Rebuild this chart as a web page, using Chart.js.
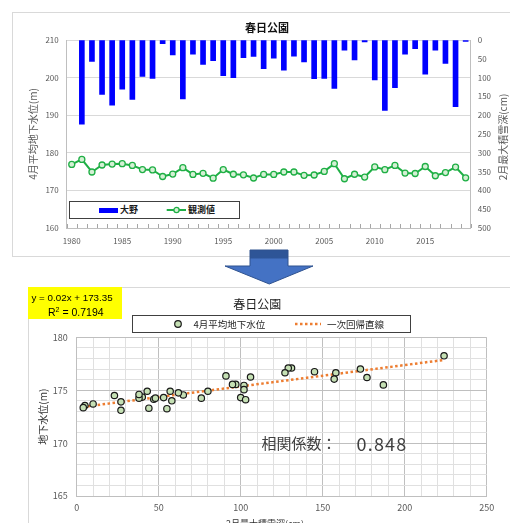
<!DOCTYPE html>
<html>
<head>
<meta charset="utf-8">
<script src="https://cdn.jsdelivr.net/npm/chart.js@4/dist/chart.umd.min.js"></script>
<style>
  html, body { margin:0; padding:0; width:510px; height:523px; overflow:hidden; background:#fff;
    font-family:'Noto Sans CJK JP','Liberation Sans',sans-serif; }
  .abs { position:absolute; }
  #box1 { left:12px; top:12px; width:520px; height:245px; border:1px solid #d9d9d9; box-sizing:border-box; }
  #box2 { left:28px; top:287px; width:520px; height:260px; border:1px solid #d9d9d9; box-sizing:border-box; }
  #c1 { left:12px; top:12px; }
  #c2 { left:28px; top:287px; }
  .leg { box-sizing:border-box; border:1px solid #404040; background:#fff; }
  .lt { position:absolute; white-space:nowrap; color:#262626; }
</style>
</head>
<body>
<div id="box1" class="abs"></div>
<div id="box2" class="abs"></div>
<canvas id="c1" class="abs" width="510" height="246" style="width:510px;height:246px"></canvas>
<canvas id="c2" class="abs" width="486" height="236" style="width:486px;height:236px"></canvas>

<!-- top chart: right axis title -->
<div class="abs" style="left:503px;top:137px;width:0;height:0;">
  <div style="position:absolute;left:-60px;top:-7px;width:120px;height:14px;line-height:14px;text-align:center;font-size:10px;color:#595959;transform:rotate(-90deg);white-space:nowrap;">2月最大積雪深(cm)</div>
</div>

<!-- top chart legend -->
<div class="abs leg" style="left:69px;top:201px;width:171px;height:18px;"></div>
<div class="abs" style="left:99px;top:208px;width:19px;height:4.5px;background:#0000ff;"></div>
<div class="lt" style="left:120px;top:203px;height:14px;line-height:14px;font-size:9px;font-weight:bold;color:#1a1a1a;">大野</div>
<svg class="abs" style="left:164px;top:204px;" width="24" height="12">
  <line x1="2.7" y1="6" x2="22" y2="6" stroke="#1FAF45" stroke-width="2"/>
  <circle cx="12.5" cy="6" r="2.6" fill="#D4F0D4" stroke="#1FAF45" stroke-width="1.3"/>
</svg>
<div class="lt" style="left:188px;top:203px;height:14px;line-height:14px;font-size:9px;font-weight:bold;color:#1a1a1a;">観測値</div>

<!-- arrow -->
<svg class="abs" style="left:0;top:0;" width="510" height="300">
  <defs>
    <linearGradient id="ag" x1="0" y1="250" x2="0" y2="284" gradientUnits="userSpaceOnUse">
      <stop offset="0" stop-color="#2E5597"/>
      <stop offset="0.22" stop-color="#2E5597"/>
      <stop offset="0.28" stop-color="#4472C4"/>
      <stop offset="1" stop-color="#4472C4"/>
    </linearGradient>
  </defs>
  <polygon points="250,250 288,250 288,266 313,266 269.3,284 225,266 250,266" fill="url(#ag)" stroke="#2F528F" stroke-width="1"/>
</svg>

<!-- regression label -->
<div class="abs" style="left:28px;top:287px;width:94px;height:32px;background:#ffff00;"></div>
<div class="lt" style="left:31.5px;top:290px;height:15px;line-height:15px;font-family:'Liberation Sans',sans-serif;font-size:9.8px;color:#000;">y = 0.02x + 173.35</div>
<div class="lt" style="left:48px;top:304.5px;height:15px;line-height:15px;font-family:'Liberation Sans',sans-serif;font-size:10.5px;color:#000;">R<sup style="font-size:7px;line-height:0;">2</sup> = 0.7194</div>

<!-- bottom chart legend -->
<div class="abs leg" style="left:132px;top:315px;width:279px;height:18px;"></div>
<svg class="abs" style="left:172px;top:318px;" width="12" height="12">
  <circle cx="6" cy="6" r="3.3" fill="#C5E0B4" stroke="#1a1a1a" stroke-width="1.2"/>
</svg>
<div class="lt" style="left:193.5px;top:317px;height:14px;line-height:14px;font-size:9.5px;">4月平均地下水位</div>
<svg class="abs" style="left:294px;top:318px;" width="30" height="12">
  <line x1="1" y1="6" x2="27" y2="6" stroke="#ED7D31" stroke-width="2.5" stroke-dasharray="2.5,2.5"/>
</svg>
<div class="lt" style="left:327px;top:317px;height:14px;line-height:14px;font-size:9.5px;">一次回帰直線</div>

<!-- correlation text -->
<div class="lt" style="left:261.5px;top:432px;height:22px;line-height:22px;font-size:15px;color:#404040;">相関係数：</div>
<div class="lt" style="left:356.5px;top:431px;height:24px;line-height:24px;font-size:18px;letter-spacing:1.2px;color:#404040;">0.848</div>

<!-- bottom chart x axis title -->
<div class="lt" style="left:215px;top:516px;width:100px;height:16px;line-height:16px;text-align:center;font-size:9px;color:#333;">2月最大積雪深(cm)</div>

<script>
// ---- data ----
const years = ['1980','1981','1982','1983','1984','1985','1986','1987','1988','1989',
               '1990','1991','1992','1993','1994','1995','1996','1997','1998','1999',
               '2000','2001','2002','2003','2004','2005','2006','2007','2008','2009',
               '2010','2011','2012','2013','2014','2015','2016','2017','2018','2019'];
// 2月最大積雪深 (cm)
const snowDepth = [null, 224, 57, 145, 173, 131, 158, 97, 102, 10,
                   40, 157, 38, 65, 55, 95, 100, 47, 44, 76,
                   48, 80, 43, 58, 103, 102, 129, 27, 53, 5,
                   106, 187, 127, 38, 23, 91, 27, 62, 177, 4];
// 4月平均地下水位 (m)
const groundLevel = [176.9, 178.25, 174.9, 176.75, 177.0, 177.1, 176.65, 175.55, 175.45, 173.7,
                     174.35, 176.05, 174.25, 174.55, 173.25, 175.55, 174.3, 174.15, 173.3, 174.25,
                     174.25, 174.9, 174.9, 174.0, 174.1, 175.05, 177.1, 173.1, 174.3, 173.55,
                     176.25, 175.5, 176.65, 174.6, 174.5, 176.35, 173.9, 174.75, 176.2, 173.35];
// 一次回帰直線 end points
const trendX = [3.7, 223.5];
const trendY = [173.42, 177.85];

Chart.defaults.font.family = "'Noto Sans CJK JP','Liberation Sans',sans-serif";
Chart.defaults.animation = false;

const innerTicks = {
  id: 'innerTicks',
  afterDatasetsDraw(chart) {
    const a = chart.chartArea;
    const n = years.length;
    const w = a.width / n;
    const ctx = chart.ctx;
    ctx.save();
    ctx.strokeStyle = '#A6A6A6';
    ctx.lineWidth = 1;
    ctx.beginPath();
    for (let i = 0; i <= n; i++) {
      const x = Math.round(a.left + i * w) + 0.5;
      ctx.moveTo(x, a.bottom);
      ctx.lineTo(x, a.bottom - 4);
    }
    ctx.stroke();
    ctx.restore();
  }
};

new Chart(document.getElementById('c1'), {
  type: 'bar',
  data: {
    labels: years,
    datasets: [
      { type: 'line', label: '観測値', data: groundLevel, yAxisID: 'y',
        borderColor: '#1FAF45', borderWidth: 2, tension: 0,
        pointRadius: 3, pointBackgroundColor: '#D4F0D4', pointBorderColor: '#1FAF45', pointBorderWidth: 1.3,
        order: 1 },
      { type: 'bar', label: '大野', data: snowDepth, yAxisID: 'y2',
        backgroundColor: '#0000FF', barThickness: 5, order: 2 }
    ]
  },
  options: {
    responsive: false,
    animation: false,
    layout: { padding: 0 },
    plugins: {
      legend: { display: false },
      tooltip: { enabled: false },
      title: { display: true, text: '春日公園', color: '#111',
               font: { size: 11, weight: 'bold', lineHeight: 1.2 },
               padding: { top: 9.4, bottom: 5.4 } }
    },
    scales: {
      x: {
        grid: { drawOnChartArea: false, drawTicks: false },
        border: { color: '#BFBFBF' },
        ticks: { autoSkip: false, maxRotation: 0, minRotation: 0, padding: 8, color: '#595959',
                 font: { size: 8 },
                 callback(v, i) { const l = years[i]; return Number(l) % 5 === 0 ? l : ''; } },
        afterFit(s) { s.height = 30; }
      },
      y: {
        position: 'left', min: 160, max: 210,
        ticks: { stepSize: 10, padding: 8, color: '#595959', font: { size: 8 } },
        grid: { color: '#D9D9D9', drawTicks: false },
        border: { color: '#BFBFBF' },
        title: { display: true, text: '4月平均地下水位(m)', color: '#595959',
                 font: { size: 10 }, padding: { top: 15, bottom: 0 } },
        afterFit(s) { s.width = 54.7; }
      },
      y2: {
        position: 'right', min: 0, max: 500, reverse: true,
        ticks: { stepSize: 50, padding: 7, color: '#595959', font: { size: 8 } },
        grid: { drawOnChartArea: false, drawTicks: false },
        border: { color: '#BFBFBF' },
        afterFit(s) { s.width = 51.3; }
      }
    }
  },
  plugins: [innerTicks]
});

const scatterPts = [];
snowDepth.forEach((s, i) => { if (s !== null) scatterPts.push({ x: s, y: groundLevel[i] }); });
const trendPts = trendX.map((x, i) => ({ x: x, y: trendY[i] }));

new Chart(document.getElementById('c2'), {
  type: 'scatter',
  data: {
    datasets: [
      { label: '4月平均地下水位', data: scatterPts,
        pointRadius: 3.2, pointBackgroundColor: '#C5E0B4', pointBorderColor: '#1A1A1A', pointBorderWidth: 1.2,
        order: 1 },
      { type: 'line', label: '一次回帰直線', data: trendPts, showLine: true,
        borderColor: '#ED7D31', borderWidth: 2.5, borderDash: [2.5, 2.5], pointRadius: 0, fill: false,
        order: 2 }
    ]
  },
  options: {
    responsive: false,
    animation: false,
    layout: { padding: { top: 0, left: 0, bottom: 0, right: 27.3 } },
    plugins: {
      legend: { display: false },
      tooltip: { enabled: false },
      title: { display: true, text: '春日公園', color: '#1a1a1a',
               font: { size: 12, weight: 'normal', lineHeight: 1.2 },
               padding: { top: 9.8, bottom: 26.1 } }
    },
    scales: {
      x: {
        type: 'linear', min: 0, max: 250,
        ticks: { stepSize: 10, autoSkip: false, maxRotation: 0, padding: 6.6, color: '#595959',
                 font: { size: 9 }, callback: v => (v % 50 === 0 ? v : '') },
        grid: { color: c => (c.tick && c.tick.value % 50 === 0 ? '#BFBFBF' : '#E0E0E0'), drawTicks: false },
        border: { color: '#BFBFBF' },
        afterFit(s) { s.height = 27; }
      },
      y: {
        min: 165, max: 180,
        ticks: { stepSize: 1, autoSkip: false, padding: 9, color: '#595959',
                 font: { size: 9 }, callback: v => (v % 5 === 0 ? v : '') },
        grid: { color: c => (c.tick && c.tick.value % 5 === 0 ? '#BFBFBF' : '#E0E0E0'), drawTicks: false },
        border: { color: '#BFBFBF' },
        title: { display: true, text: '地下水位(m)', color: '#333',
                 font: { size: 10 }, padding: { top: 9, bottom: 0 } },
        afterFit(s) { s.width = 48.7; }
      }
    }
  }
});
</script>
</body>
</html>
